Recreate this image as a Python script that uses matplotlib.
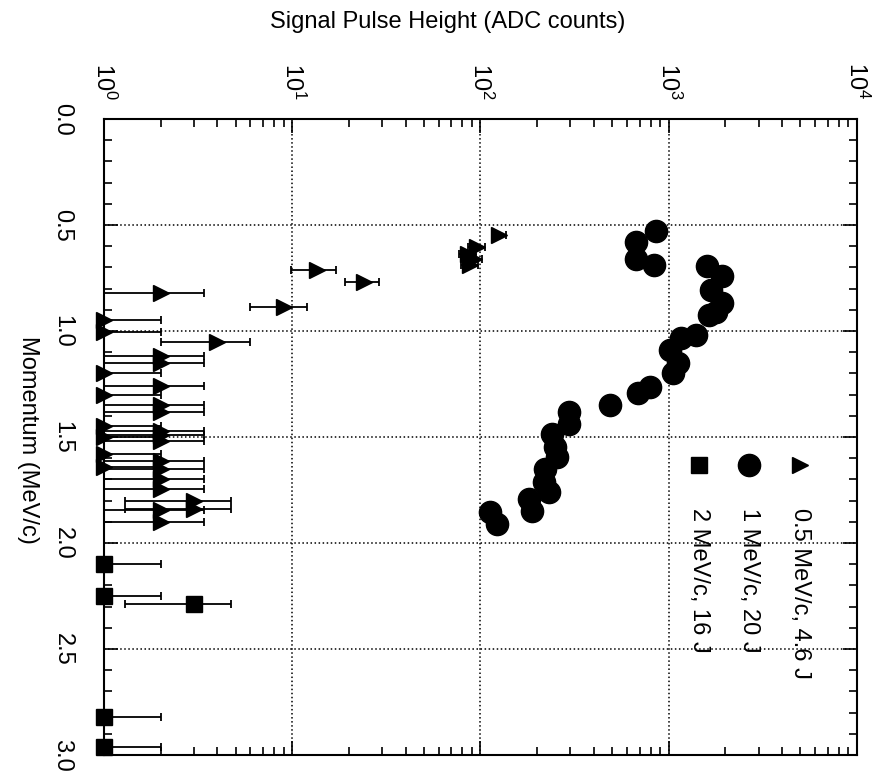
import numpy as np
import matplotlib.pyplot as plt
from matplotlib.ticker import MultipleLocator, FormatStrFormatter

plt.rcParams['font.family'] = ['Liberation Sans', 'DejaVu Sans']

# 0.5 MeV/c, 4.6 J  (triangles)
tri_mom = [0.545, 0.605, 0.635, 0.66, 0.69, 0.714, 0.77, 0.82, 0.887, 0.948,
           1.005, 1.05, 1.12, 1.15, 1.20, 1.26, 1.30, 1.35, 1.38, 1.45,
           1.47, 1.49, 1.50, 1.52, 1.58, 1.615, 1.64, 1.65, 1.70, 1.745,
           1.80, 1.84, 1.845, 1.90]
tri_ph = [126, 96, 86, 92, 88, 13.5, 24, 2, 9, 1,
          1, 4, 2, 2, 1, 2, 1, 2, 2, 1,
          2, 2, 1, 2, 1, 2, 1, 2, 2, 2,
          3, 3, 2, 2]
tri_err = [11, 10, 9, 9.5, 9.4, 3.6, 4.9, 1.4, 3, 1,
           1, 2, 1.4, 1.4, 1, 1.4, 1, 1.4, 1.4, 1,
           1.4, 1.4, 1, 1.4, 1, 1.4, 1, 1.4, 1.4, 1.4,
           1.7, 1.7, 1.4, 1.4]

# 1 MeV/c, 20 J  (circles)
cir_mom = [0.526, 0.582, 0.662, 0.690, 0.695, 0.742, 0.808, 0.869, 0.910, 0.925,
           1.019, 1.033, 1.089, 1.150, 1.197, 1.263, 1.291, 1.347, 1.380, 1.441,
           1.488, 1.545, 1.596, 1.653, 1.714, 1.761, 1.793, 1.850, 1.854, 1.911]
cir_ph = [857, 670, 670, 836, 1589, 1914, 1668, 1914, 1775, 1629,
          1403, 1167, 1019, 1125, 1057, 796, 686, 486, 296, 296,
          240, 249, 256, 220, 218, 232, 181, 188, 112, 122]

# 2 MeV/c, 16 J  (squares)
sq_mom = [2.10, 2.25, 2.29, 2.82, 2.96]
sq_ph = [1, 1, 3, 1, 1]
sq_err = [1, 1, 1.7, 1, 1]

legend_labels = ['0.5 MeV/c, 4.6 J', '1 MeV/c, 20 J', '2 MeV/c, 16 J']

fig = plt.figure(figsize=(8.79, 7.78), dpi=100)
ax = fig.add_axes([104/879, 1-755/778, (857-104)/879, (755-119)/778])
ax.set_xscale('log')
ax.set_xlim(1, 1e4)
ax.set_ylim(3.0, 0.0)

ekw = dict(fmt='none', ecolor='k', elinewidth=1.3, capsize=3, capthick=1.3, zorder=2)
ax.errorbar(tri_ph, tri_mom, xerr=tri_err, **ekw)
ax.errorbar(sq_ph, sq_mom, xerr=sq_err, **ekw)

ax.plot(tri_ph, tri_mom, '>', color='k', ms=12, ls='none', clip_on=False, zorder=3)
ax.plot(cir_ph, cir_mom, 'o', color='k', ms=16, ls='none', clip_on=False, zorder=3)
ax.plot(sq_ph, sq_mom, 's', color='k', ms=12, ls='none', clip_on=False, zorder=3)

ax.xaxis.tick_top()
ax.yaxis.set_major_locator(MultipleLocator(0.5))
ax.yaxis.set_minor_locator(MultipleLocator(0.1))
ax.yaxis.set_major_formatter(FormatStrFormatter('%.1f'))
ax.tick_params(which='both', direction='in', top=True, bottom=True, left=True, right=True,
               width=1.2, colors='k')
ax.tick_params(which='major', length=10)
ax.tick_params(which='minor', length=6)
ax.tick_params(axis='x', labelrotation=-90, labelsize=17, pad=14)
ax.tick_params(axis='y', labelrotation=-90, labelsize=17, pad=22)
ax.set_yticks([0.0, 0.5, 1.0, 1.5, 2.0, 2.5, 3.0])
for lbl in ax.get_yticklabels():
    lbl.set_verticalalignment('center')

ax.grid(True, which='major', linestyle=':', color='k', linewidth=1.1)
for sp in ax.spines.values():
    sp.set_linewidth(1.5)

# legend drawn by hand, rotated like the rest of the figure
leg_x = [0.924, 0.857, 0.790]
leg_mk = ['>', 'o', 's']
leg_ms = [12, 16, 12]
for lx, mk, ms, lab in zip(leg_x, leg_mk, leg_ms, legend_labels):
    ax.plot([lx], [0.456], mk, color='k', ms=ms, transform=ax.transAxes, clip_on=False)
    ax.text(lx, 0.388, lab, rotation=-90, ha='center', va='top', fontsize=17,
            transform=ax.transAxes)

fig.text(448/879, 1-22/778, 'Signal Pulse Height (ADC counts)', ha='center', va='center',
         fontsize=17)
fig.text(28/879, 1-440/778, 'Momentum (MeV/c)', rotation=-90, ha='center', va='center',
         fontsize=17)

fig.savefig('out.png', dpi=100)
